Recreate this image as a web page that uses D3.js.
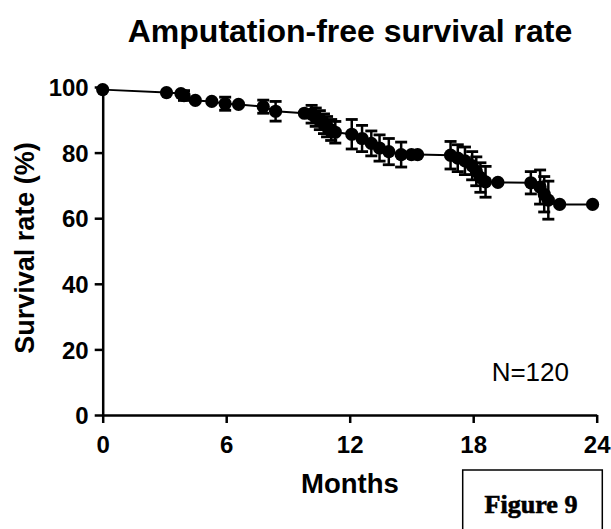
<!DOCTYPE html>
<html>
<head>
<meta charset="utf-8">
<script src="https://cdn.jsdelivr.net/npm/d3@7"></script>
<style>
  body { margin: 0; background: #fff; }
  svg text { font-family: "Liberation Sans", Arial, sans-serif; fill: #000; }
</style>
</head>
<body>
<div id="cont"></div>
<script>
    // survival curve values
    var months = [0, 3.1, 3.8, 3.95, 4.5, 5.3, 5.95, 6.6, 7.8, 8.4, 9.8,
      10.15, 10.35, 10.55, 10.75, 10.9, 11.1, 11.3, 12.1, 12.6, 13.05, 13.45, 13.9,
      14.5, 15.0, 15.3, 16.9, 17.25, 17.6, 17.95, 18.15, 18.35, 18.6, 19.2,
      20.8, 21.25, 21.45, 21.65, 22.2, 23.8];
    var survival = [99.2, 98.3, 98.0, 97.4, 95.9, 95.6, 94.9, 94.7, 94.0, 92.6, 92.0,
      91.7, 90.8, 89.9, 88.8, 87.9, 86.9, 86.2, 85.6, 84.3, 82.8, 81.4, 80.3,
      79.4, 79.4, 79.4, 79.2, 78.3, 77.5, 76.0, 74.3, 72.4, 71.1, 70.9,
      70.8, 69.5, 67.3, 65.5, 64.2, 64.2];
    var errors = [0, 0, 0, 1.5, 0, 0, 2.0, 0, 2.0, 3.0, 0,
      2.7, 2.8, 2.9, 3.0, 3.1, 3.2, 3.3, 4.5, 4.0, 3.8, 4.0, 4.0,
      3.8, 0, 0, 4.2, 4.1, 4.2, 4.3, 4.4, 4.5, 4.7, 0,
      3.4, 5.2, 5.4, 5.8, 0, 0];

    var xTicks = [0, 6, 12, 18, 24];
    var yTicks = [0, 20, 40, 60, 80, 100];

    var points = [];
    for (var i = 0; i < months.length; i++) {
      points.push({ m: months[i], s: survival[i], e: errors[i] });
    }

    var canvas = d3.select("#cont")
      .append("svg")
      .attr("width", 611)
      .attr("height", 529);

    var x = d3.scaleLinear().domain([0, 24]).range([102.7, 596.7]);
    var y = d3.scaleLinear().domain([0, 100]).range([415, 87]);

    // title
    canvas.append("text")
      .attr("x", 350)
      .attr("y", 42)
      .attr("text-anchor", "middle")
      .style("font-size", "32px")
      .style("font-weight", "bold")
      .text("Amputation-free survival rate");

    // axes
    var xAxis = canvas.append("g")
      .attr("transform", "translate(0,415)")
      .call(d3.axisBottom(x).tickValues(xTicks).tickSize(8).tickPadding(5).tickSizeOuter(0));

    var yAxis = canvas.append("g")
      .attr("transform", "translate(102.7,0)")
      .call(d3.axisLeft(y).tickValues(yTicks).tickSize(8).tickPadding(6).tickSizeOuter(0));

    canvas.selectAll(".domain, .tick line")
      .style("stroke", "#000")
      .style("stroke-width", 2.5);

    canvas.selectAll(".tick text")
      .style("font-size", "24px")
      .style("font-weight", "bold")
      .style("font-family", "'Liberation Sans', Arial, sans-serif")
      .attr("fill", "#000");

    xAxis.selectAll(".tick text").attr("dy", "0.71em").attr("y", 21);
    yAxis.selectAll(".tick text").attr("x", -14).attr("dy", "0.36em");

    // axis titles
    canvas.append("text")
      .attr("x", 350)
      .attr("y", 493)
      .attr("text-anchor", "middle")
      .style("font-size", "27.5px")
      .style("font-weight", "bold")
      .text("Months");

    canvas.append("text")
      .attr("transform", "translate(34,248) rotate(-90)")
      .attr("text-anchor", "middle")
      .style("font-size", "27px")
      .style("font-weight", "bold")
      .text("Survival rate (%)");

    //Error bars
    var withErr = points.filter(function(d) { return d.e > 0; });

    canvas.selectAll("line.err")
      .data(withErr)
      .enter()
      .append("line")
      .attr("class", "err")
      .attr("x1", function(d) { return x(d.m); })
      .attr("x2", function(d) { return x(d.m); })
      .attr("y1", function(d) { return y(d.s + d.e); })
      .attr("y2", function(d) { return y(d.s - d.e); })
      .style("stroke", "#000")
      .style("stroke-width", 2.5);

    [1, -1].forEach(function(sign) {
      canvas.selectAll("line.cap" + (sign > 0 ? "top" : "bot"))
        .data(withErr)
        .enter()
        .append("line")
        .attr("x1", function(d) { return x(d.m) - 6; })
        .attr("x2", function(d) { return x(d.m) + 6; })
        .attr("y1", function(d) { return y(d.s + sign * d.e); })
        .attr("y2", function(d) { return y(d.s + sign * d.e); })
        .style("stroke", "#000")
        .style("stroke-width", 2.8);
    });

    // connecting line
    var line = d3.line()
      .x(function(d) { return x(d.m); })
      .y(function(d) { return y(d.s); });

    canvas.append("path")
      .datum(points)
      .attr("d", line)
      .style("fill", "none")
      .style("stroke", "#000")
      .style("stroke-width", 2);

    // points
    canvas.selectAll("circle")
      .data(points)
      .enter()
      .append("circle")
      .attr("r", 6.6)
      .attr("cx", function(d) { return x(d.m); })
      .attr("cy", function(d) { return y(d.s); })
      .style("fill", "#000");

    canvas.append("text")
      .attr("x", 569)
      .attr("y", 381)
      .attr("text-anchor", "end")
      .style("font-size", "26px")
      .text("N=120");

    // figure label box
    canvas.append("rect")
      .attr("x", 462.7)
      .attr("y", 470)
      .attr("width", 139.6)
      .attr("height", 80)
      .style("fill", "none")
      .style("stroke", "#000")
      .style("stroke-width", 1.5);

    canvas.append("text")
      .attr("x", 531)
      .attr("y", 513)
      .attr("text-anchor", "middle")
      .style("font-family", "'Liberation Serif', 'Times New Roman', serif")
      .style("font-size", "25px")
      .style("font-weight", "bold")
      .style("stroke", "#000")
      .style("stroke-width", 0.6)
      .attr("textLength", 93)
      .attr("lengthAdjust", "spacingAndGlyphs")
      .text("Figure 9");
</script>
</body>
</html>
